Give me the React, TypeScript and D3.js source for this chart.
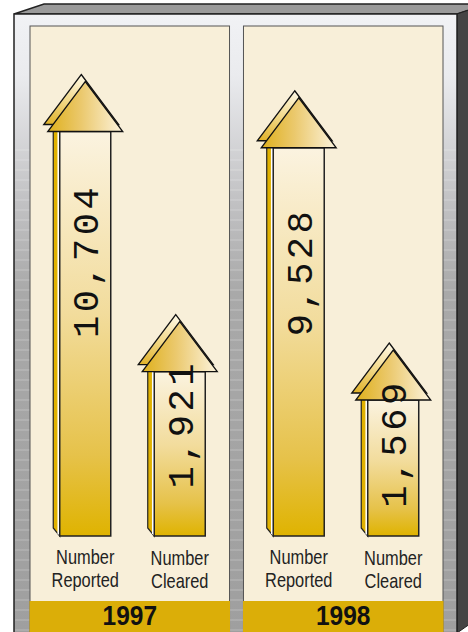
import React from "react";
import * as d3 from "d3";

const years = ["1997", "1998"];
const categories = ["Number Reported", "Number Cleared"];
const categoryLines = [
  ["Number", "Reported"],
  ["Number", "Cleared"],
];
const reported = [10704, 9528];
const cleared = [1921, 1569];

const W = 468;
const H = 632;
const SANS = "'Liberation Sans', Arial, sans-serif";
const MONO = "'Liberation Mono', 'DejaVu Sans Mono', monospace";

export default function App() {
  const panelX = d3
    .scaleBand<string>()
    .domain(years)
    .range([30, 443])
    .paddingInner(14 / 214)
    .paddingOuter(0);
  const innerX = d3.scaleBand<string>().domain(categories).range([8, 197]);
  const yApex = d3.scaleLog().domain([1000, 10000]).range([413, 91]);
  const baseY = 536;
  const fmt = d3.format(",");
  const shaftW = 51;
  const triW = 75;
  const triH = 50;

  const line = (pts: [number, number][]) => pts.map((p) => p.join(",")).join(" ");
  const bandLines = d3.range(150, 640, 10);

  const arrows: { key: string; cx: number; value: number }[] = [];
  years.forEach((yr, i) => {
    const vals = [reported[i], cleared[i]];
    categories.forEach((c, j) => {
      const cx = (panelX(yr) as number) + (innerX(c) as number) + innerX.bandwidth() / 2;
      arrows.push({ key: yr + c, cx, value: vals[j] });
    });
  });

  return (
    <svg
      width={W}
      height={H}
      style={{ position: "absolute", left: 0, top: 0, background: "#ffffff" }}
    >
      <defs>
        <linearGradient id="frameGrad" x1="0" y1="14" x2="0" y2="632" gradientUnits="userSpaceOnUse">
          <stop offset="0" stopColor="#f1f2f5" />
          <stop offset="0.1" stopColor="#eaebee" />
          <stop offset="0.3" stopColor="#c2c2c4" />
          <stop offset="0.45" stopColor="#a9a9a9" />
          <stop offset="1" stopColor="#9f9f9f" />
        </linearGradient>
        <linearGradient id="shaftGrad" x1="0" y1="0" x2="0" y2="1">
          <stop offset="0" stopColor="#fbf3e0" />
          <stop offset="0.45" stopColor="#f2dc9c" />
          <stop offset="0.8" stopColor="#e6c24a" />
          <stop offset="1" stopColor="#dfb300" />
        </linearGradient>
        <linearGradient id="triFront" x1="0" y1="0" x2="1" y2="0">
          <stop offset="0" stopColor="#dfb01c" />
          <stop offset="0.45" stopColor="#ebc96e" />
          <stop offset="1" stopColor="#fcf3dc" />
        </linearGradient>
        <linearGradient id="triSide" x1="0.55" y1="0" x2="0" y2="1">
          <stop offset="0" stopColor="#fffaea" />
          <stop offset="0.5" stopColor="#f2d98a" />
          <stop offset="1" stopColor="#e0b024" />
        </linearGradient>
      </defs>

      {/* 3D frame */}
      <polygon points={line([[14, 14], [44, 4], [487, 4], [457, 14]])} fill="#9a9a9a" stroke="#222" strokeWidth={1.5} />
      <polygon points={line([[457, 14], [487, 4], [487, 612], [457, 633]])} fill="#444" stroke="#222" strokeWidth={1} />
      <rect x={14} y={14} width={443} height={640} fill="url(#frameGrad)" stroke="#222" strokeWidth={1.5} />
      {bandLines.map((y) => (
        <line key={y} x1={15} x2={456} y1={y} y2={y} stroke="#ffffff" strokeOpacity={0.28} strokeWidth={1} />
      ))}

      {/* panels */}
      {years.map((yr) => {
        const x = panelX(yr) as number;
        const w = panelX.bandwidth();
        return (
          <g key={yr}>
            <rect x={x} y={26} width={w} height={640} fill="#f8efd9" stroke="#555" strokeWidth={1} />
            <rect x={x - 0.5} y={601} width={w + 1} height={40} fill="#dbae08" />
            <text
              transform={`translate(${x + w / 2},625) scale(0.86,1)`}
              textAnchor="middle"
              fontFamily={SANS}
              fontWeight="bold"
              fontSize={28.5}
              fill="#111"
            >
              {yr}
            </text>
            {categories.map((c, j) => {
              const cx = x + (innerX(c) as number) + innerX.bandwidth() / 2;
              return (
                <g key={c} transform={`translate(${cx},0) scale(0.82,1)`}>
                  <text textAnchor="middle" fontFamily={SANS} fontSize={20} fill="#222">
                    <tspan x={0} y={564 + j}>
                      {categoryLines[j][0]}
                    </tspan>
                    <tspan x={0} y={587 + j}>
                      {categoryLines[j][1]}
                    </tspan>
                  </text>
                </g>
              );
            })}
          </g>
        );
      })}

      {/* arrows */}
      {arrows.map((a) => {
        const apex = yApex(a.value);
        const triBase = apex + triH;
        const x0 = a.cx - shaftW / 2;
        const x1 = a.cx + shaftW / 2;
        const sdx = -6.5;
        const sdy = -8;
        const tdx = -4;
        const tdy = -7;
        const front: [number, number][] = [
          [a.cx, apex],
          [a.cx + triW / 2, triBase],
          [a.cx - triW / 2, triBase],
        ];
        const back = front.map(([px, py]) => [px + tdx, py + tdy] as [number, number]);
        const labelY = triBase + 0.32 * (baseY - triBase);
        return (
          <g key={a.key}>
            <polygon
              points={line([
                [x0, triBase],
                [x0 + sdx, triBase + sdy],
                [x0 + sdx, baseY + sdy],
                [x0, baseY],
              ])}
              fill="#e0b100"
              stroke="#222"
              strokeWidth={1.2}
            />
            <polygon
              points={line([
                [x0 - 2.3, triBase],
                [x0 - 2.3, baseY + (sdy * 2.3) / -sdx],
                [x0, baseY],
                [x0, triBase],
              ])}
              fill="#ffffff"
            />
            <rect
              x={x0}
              y={triBase}
              width={x1 - x0}
              height={baseY - triBase}
              fill="url(#shaftGrad)"
              stroke="#222"
              strokeWidth={1.5}
            />
            <polygon points={line(back)} fill="url(#triSide)" stroke="#111" strokeWidth={1.3} />
            <polygon points={line(front)} fill="url(#triFront)" stroke="#111" strokeWidth={1.3} />
            <text
              transform={`translate(${a.cx + 13},${labelY}) rotate(-90)`}
              textAnchor="middle"
              fontFamily={MONO}
              fontSize={37}
              letterSpacing={3.5}
              fill="#111"
            >
              {fmt(a.value)}
            </text>
          </g>
        );
      })}
    </svg>
  );
}
